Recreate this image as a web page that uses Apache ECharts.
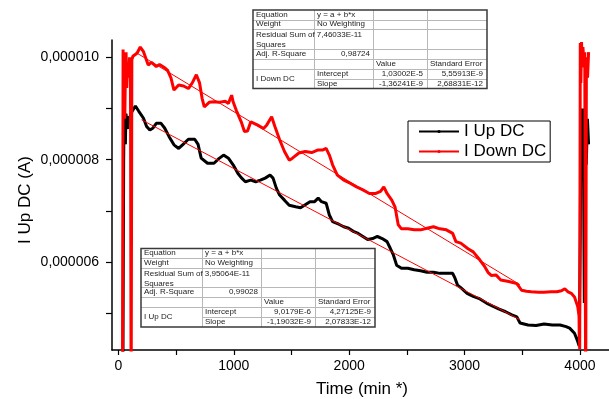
<!DOCTYPE html>
<html>
<head>
<meta charset="utf-8">
<script src="https://cdn.jsdelivr.net/npm/echarts@6/dist/echarts.min.js"></script>
<style>
  html, body { margin: 0; padding: 0; background: #fff; }
  #chart { width: 609px; height: 399px; }
</style>
</head>
<body>
<div id="chart"></div>
<script>
// Currents are listed in microamperes and converted to amperes for plotting.
const MICRO = 1e-6;

// I Up DC (black)
const timeUp = [38, 45, 50, 55, 60, 65, 72, 80, 88, 96, 105, 120, 147, 175, 217, 244, 272, 300, 328, 369,
  400, 439, 481, 522, 560, 606, 661, 690, 717, 772, 828, 870, 911, 953, 994, 1036, 1064, 1100, 1147, 1190,
  1230, 1272, 1314, 1340, 1369, 1397, 1439, 1480, 1536, 1578, 1619, 1660, 1700, 1731, 1760, 1800, 1828, 1856, 1910, 1953,
  1995, 2036, 2078, 2119, 2160, 2203, 2244, 2286, 2328, 2356, 2383, 2411, 2453, 2508, 2564, 2619, 2675, 2731, 2786, 2842,
  2897, 2918, 2939, 2967, 3022, 3075, 3133, 3190, 3244, 3300, 3356, 3410, 3453, 3481, 3550, 3620, 3689, 3760, 3828, 3880,
  3911, 3953, 3981, 3994, 4003, 4008, 4015, 4022, 4030, 4038, 4045, 4055, 4065, 4075];
const upDC = [3.5, 7.95, 9.3, 8.6, 8.3, 8.9, 8.75, 8.6, 8.85, 8.7, 8.9, 8.95, 9.05, 8.95, 8.81, 8.65, 8.58, 8.62, 8.71, 8.71,
  8.62, 8.45, 8.29, 8.22, 8.3, 8.40, 8.40, 8.3, 8.03, 7.93, 7.93, 8.02, 8.09, 8.03, 7.90, 7.73, 7.65, 7.57, 7.60, 7.57,
  7.60, 7.64, 7.70, 7.64, 7.44, 7.31, 7.21, 7.11, 7.08, 7.06, 7.12, 7.18, 7.18, 7.25, 7.18, 7.15, 6.92, 6.79, 6.74, 6.69,
  6.66, 6.60, 6.56, 6.50, 6.44, 6.46, 6.50, 6.46, 6.40, 6.27, 6.14, 5.94, 5.88, 5.88, 5.85, 5.83, 5.80, 5.80, 5.78, 5.78,
  5.78, 5.68, 5.55, 5.50, 5.39, 5.33, 5.28, 5.20, 5.14, 5.08, 5.03, 4.97, 4.93, 4.81, 4.77, 4.76, 4.79, 4.77, 4.77, 4.74,
  4.71, 4.61, 4.45, 4.36, 6.5, 8.9, 7.6, 9.0, 8.4, 5.2, 8.9, 7.9, 8.8, 8.3];

// I Down DC (red)
const timeDown = [35, 40, 45, 50, 55, 60, 66, 72, 80, 88, 96, 104, 110, 116, 125, 140, 161, 189, 217, 258,
  286, 328, 356, 397, 425, 455, 481, 522, 564, 606, 640, 675, 703, 725, 744, 786, 828, 869, 925, 953,
  981, 994, 1022, 1064, 1092, 1119, 1147, 1203, 1258, 1286, 1328, 1356, 1397, 1439, 1481, 1508, 1564, 1619, 1675, 1731,
  1772, 1800, 1828, 1856, 1897, 1953, 2008, 2064, 2119, 2175, 2231, 2272, 2300, 2328, 2369, 2397, 2425, 2453, 2508, 2564,
  2619, 2675, 2731, 2786, 2842, 2897, 2925, 2967, 3030, 3075, 3133, 3175, 3203, 3231, 3272, 3314, 3383, 3453, 3494, 3536,
  3578, 3640, 3689, 3750, 3800, 3840, 3869, 3897, 3925, 3953, 3981, 3992, 3998, 4003, 4008, 4014, 4020, 4026, 4034, 4042,
  4050, 4056, 4066, 4075];
const downDC = [3.0, 10.15, 9.3, 9.95, 8.8, 9.7, 10.1, 9.4, 9.9, 9.6, 10.0, 9.8, 3.0, 9.95, 10.02, 10.05, 10.08, 10.2, 10.11, 9.85,
  9.9, 9.82, 9.86, 9.8, 9.75, 9.6, 9.36, 9.46, 9.44, 9.39, 9.5, 9.66, 9.5, 9.2, 9.03, 9.12, 9.13, 9.12, 9.14, 9.10,
  9.26, 9.13, 8.96, 8.74, 8.55, 8.56, 8.74, 8.68, 8.61, 8.68, 8.84, 8.65, 8.39, 8.16, 7.99, 8.03, 8.13, 8.16, 8.14, 8.19,
  8.19, 8.22, 8.09, 7.90, 7.70, 7.60, 7.54, 7.47, 7.41, 7.34, 7.34, 7.38, 7.47, 7.34, 7.21, 7.08, 6.73, 6.65, 6.65, 6.63,
  6.63, 6.66, 6.69, 6.65, 6.63, 6.56, 6.40, 6.37, 6.26, 6.20, 6.04, 5.91, 5.80, 5.74, 5.75, 5.65, 5.62, 5.58, 5.45, 5.43,
  5.42, 5.41, 5.41, 5.42, 5.42, 5.44, 5.48, 5.42, 5.39, 5.32, 5.13, 4.95, 4.30, 10.28, 9.5, 10.3, 9.8, 10.2, 9.9, 10.1,
  3.0, 10.0, 9.6, 10.1];

// Linear fits y = a + b*x
const fitUp = { a: 9.0179e-6, b: -1.19032e-9, from: 200, to: 3480 };
const fitDown = { a: 1.03002e-5, b: -1.36241e-9, from: 150, to: 3480 };

// Axis ticks and labels
const xTicks = [0, 500, 1000, 1500, 2000, 2500, 3000, 3500, 4000];
const xLabels = [0, 1000, 2000, 3000, 4000];
const yTicks = [5e-6, 6e-6, 7e-6, 8e-6, 9e-6, 1e-5];
const yLabels = [6e-6, 8e-6, 1e-5];

// Fit report tables
const tableDown = {
  name: 'I Down DC', rss: '7,46033E-11', r2: '0,98724',
  intercept: '1,03002E-5', interceptErr: '5,55913E-9',
  slope: '-1,36241E-9', slopeErr: '2,68831E-12'
};
const tableUp = {
  name: 'I Up DC', rss: '3,95064E-11', r2: '0,99028',
  intercept: '9,0179E-6', interceptErr: '4,27125E-9',
  slope: '-1,19032E-9', slopeErr: '2,07833E-12'
};

const FONT = '"Liberation Sans", Arial, sans-serif';

function pairs(t, v) { return t.map((x, i) => [x, v[i] * MICRO]); }
function fitLine(f) { return [[f.from, f.a + f.b * f.from], [f.to, f.a + f.b * f.to]]; }

function buildTable(x0, y0, d) {
  const colW = [61, 59, 54, 60];
  const rowH = [9.5, 9.5, 19.5, 10, 10, 10, 10];
  const cx = [x0]; colW.forEach(w => cx.push(cx[cx.length - 1] + w));
  const ry = [y0]; rowH.forEach(h => ry.push(ry[ry.length - 1] + h));
  const W = cx[4] - x0, H = ry[7] - y0;
  const els = [];
  els.push({ type: 'rect', shape: { x: x0, y: y0, width: W, height: H }, style: { fill: '#fff', stroke: null }, z: 100 });
  const grey = { stroke: '#b8b8b8', lineWidth: 1 };
  for (let i = 1; i < 7; i++) {
    const xs = (i === 6) ? cx[1] : x0;
    els.push({ type: 'line', shape: { x1: xs, y1: Math.round(ry[i]) + 0.5, x2: cx[4], y2: Math.round(ry[i]) + 0.5 }, style: grey, z: 101 });
  }
  for (let j = 1; j < 4; j++) {
    els.push({ type: 'line', shape: { x1: Math.round(cx[j]) + 0.5, y1: y0, x2: Math.round(cx[j]) + 0.5, y2: ry[7] }, style: grey, z: 101 });
  }
  els.push({ type: 'rect', shape: { x: x0, y: y0, width: W, height: H }, style: { fill: null, stroke: '#3a3a3a', lineWidth: 1.5 }, z: 102 });
  const ts = { fontSize: 8, fontFamily: FONT, fill: '#222' };
  function txt(text, x, y, align, vAlign) {
    els.push({ type: 'text', x: x, y: y, z: 103,
      style: Object.assign({ text: text, align: align || 'left', verticalAlign: vAlign || 'middle', lineHeight: 10 }, ts) });
  }
  const mid = r => (ry[r] + ry[r + 1]) / 2;
  txt('Equation', x0 + 3, mid(0));
  txt('y = a + b*x', cx[1] + 3, mid(0));
  txt('Weight', x0 + 3, mid(1));
  txt('No Weighting', cx[1] + 3, mid(1));
  txt('Residual Sum of\nSquares', x0 + 3, ry[2] + 1, 'left', 'top');
  txt(d.rss, cx[2] - 11, ry[2] + 1, 'right', 'top');
  txt('Adj. R-Square', x0 + 3, mid(3));
  txt(d.r2, cx[2] - 3, mid(3), 'right');
  txt('Value', cx[2] + 3, mid(4));
  txt('Standard Error', cx[3] + 3, mid(4));
  txt(d.name, x0 + 3, ry[6]);
  txt('Intercept', cx[1] + 3, mid(5));
  txt(d.intercept, cx[3] - 4, mid(5), 'right');
  txt(d.interceptErr, cx[4] - 4, mid(5), 'right');
  txt('Slope', cx[1] + 3, mid(6));
  txt(d.slope, cx[3] - 4, mid(6), 'right');
  txt(d.slopeErr, cx[4] - 4, mid(6), 'right');
  return els;
}

const chart = echarts.init(document.getElementById('chart'), null, { renderer: 'canvas' });

const option = {
  animation: false,
  backgroundColor: '#fff',
  grid: { left: 112, top: 40, width: 517, height: 310, containLabel: false },
  xAxis: {
    type: 'value', min: -56, max: 4252,
    splitLine: { show: false },
    axisLine: { show: true, onZero: false, lineStyle: { color: '#000', width: 1.5 } },
    axisTick: { show: true, length: 5, customValues: xTicks, lineStyle: { color: '#000', width: 1.2 } },
    axisLabel: { customValues: xLabels, margin: 9, fontSize: 14, fontFamily: FONT, color: '#000',
      formatter: v => String(v) }
  },
  yAxis: {
    type: 'value', min: 4.283e-6, max: 10.338e-6,
    splitLine: { show: false },
    axisLine: { show: true, onZero: false, lineStyle: { color: '#000', width: 1.5 } },
    axisTick: { show: true, length: 6, customValues: yTicks, lineStyle: { color: '#000', width: 1.2 } },
    axisLabel: {
      customValues: yLabels, margin: 13, fontSize: 14, fontFamily: FONT, color: '#000',
      formatter: v => v.toFixed(6).replace('.', ',')
    }
  },
  legend: {
    orient: 'vertical', left: 408, top: 121,
    data: ['I Up DC', 'I Down DC'],
    itemWidth: 40, itemHeight: 4, itemGap: 3,
    padding: [2, 4, 2, 10],
    borderColor: '#000', borderWidth: 1, backgroundColor: '#fff',
    textStyle: { fontSize: 17, fontFamily: FONT, color: '#000' }
  },
  series: [
    {
      name: 'I Up DC', type: 'line', data: pairs(timeUp, upDC),
      symbol: 'circle', symbolSize: 4, showSymbol: false,
      lineStyle: { color: '#000', width: 3 }, itemStyle: { color: '#000' }, z: 2
    },
    {
      name: 'I Down DC', type: 'line', data: pairs(timeDown, downDC),
      symbol: 'circle', symbolSize: 4, showSymbol: false,
      lineStyle: { color: '#ff0000', width: 3 }, itemStyle: { color: '#ff0000' }, z: 3
    },
    {
      name: 'Linear Fit of I Up DC', type: 'line', data: fitLine(fitUp),
      symbol: 'none', lineStyle: { color: '#ff0000', width: 1 }, z: 4
    },
    {
      name: 'Linear Fit of I Down DC', type: 'line', data: fitLine(fitDown),
      symbol: 'none', lineStyle: { color: '#ff0000', width: 1 }, z: 4
    }
  ],
  graphic: {
    elements: [
      { type: 'text', x: 362, y: 389, z: 50,
        style: { text: 'Time (min *)', align: 'center', verticalAlign: 'middle', fontSize: 17, fontFamily: FONT, fill: '#000' } },
      { type: 'text', x: 25, y: 200, rotation: Math.PI / 2, z: 50,
        style: { text: 'I Up DC (A)', align: 'center', verticalAlign: 'middle', fontSize: 17, fontFamily: FONT, fill: '#000' } }
    ].concat(buildTable(253, 10, tableDown), buildTable(141, 248.5, tableUp))
  }
};

chart.setOption(option);
</script>
</body>
</html>
